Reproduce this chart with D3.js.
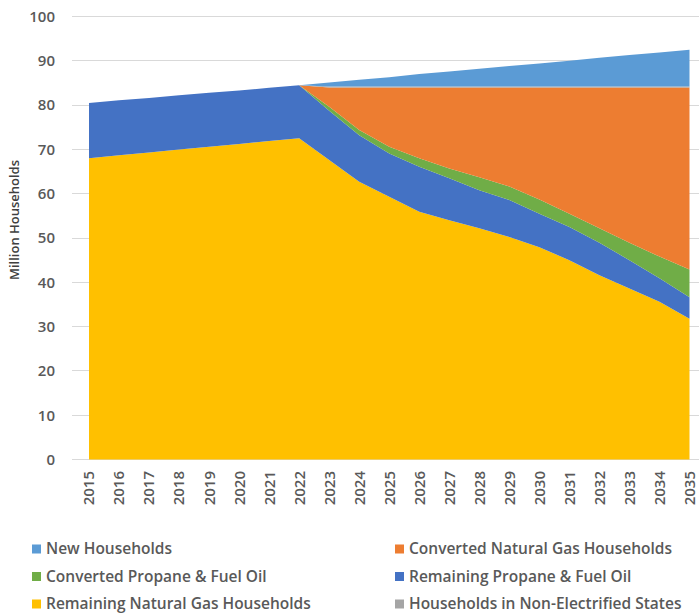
<!doctype html>
<html>

<head>
    <meta charset="utf-8">
    <style>
        body {
            margin: 0;
            background: #fff;
        }

        .grid line {
            stroke: #d9d9d9;
            stroke-width: 1px;
            shape-rendering: crispEdges;
        }

        .ytick text,
        .xtick text {
            fill: #595959;
            font-family: "Open Sans", sans-serif;
            font-weight: 600;
        }

        .legend text {
            fill: #595959;
            font-family: "Open Sans", sans-serif;
            font-weight: 600;
            font-size: 15.5px;
        }
    </style>
    <script src="https://d3js.org/d3.v7.min.js"></script>
</head>

<body>

    <script>
        // years on the x axis
        const years = d3.range(2015, 2036)

        // million households per series, 2015..2035
        const remainingGas = [68.0, 68.7, 69.3, 70.0, 70.6, 71.2, 71.9, 72.5, 67.6, 62.7, 59.3, 55.9, 54.0, 52.2, 50.2, 47.9, 45.0, 41.6, 38.6, 35.6, 31.8]
        const remainingPropane = [12.5, 12.4, 12.3, 12.2, 12.2, 12.1, 12.0, 12.0, 11.1, 10.5, 9.8, 10.2, 9.5, 8.6, 8.4, 7.6, 7.5, 7.3, 6.4, 5.3, 4.8]
        const convertedPropane = [0, 0, 0, 0, 0, 0, 0, 0, 0.9, 1.2, 1.5, 1.9, 2.2, 2.9, 3.0, 3.2, 3.0, 3.3, 3.9, 4.9, 6.3]
        const convertedGas = [0, 0, 0, 0, 0, 0, 0, 0, 4.4, 9.6, 13.4, 16.0, 18.3, 20.3, 22.4, 25.3, 28.5, 31.8, 35.1, 38.2, 41.1]
        const nonElectrified = [0, 0, 0, 0, 0, 0, 0, 0, 0.2, 0.2, 0.2, 0.2, 0.2, 0.2, 0.2, 0.2, 0.2, 0.2, 0.2, 0.2, 0.2]
        const newHouseholds = [0, 0, 0, 0, 0, 0, 0, 0, 0.9, 1.5, 2.1, 2.8, 3.4, 4.0, 4.6, 5.2, 5.8, 6.5, 7.1, 7.7, 8.3]

        const yTicks = [0, 10, 20, 30, 40, 50, 60, 70, 80, 90, 100]

        // stacking order, bottom first
        const series = [
            { key: "Remaining Natural Gas Households", values: remainingGas, color: "#ffc000" },
            { key: "Remaining Propane & Fuel Oil", values: remainingPropane, color: "#4472c4" },
            { key: "Converted Propane & Fuel Oil", values: convertedPropane, color: "#70ad47" },
            { key: "Converted Natural Gas Households", values: convertedGas, color: "#ed7d31" },
            { key: "Households in Non-Electrified States", values: nonElectrified, color: "#a5a5a5" },
            { key: "New Households", values: newHouseholds, color: "#5b9bd5" },
        ]

        // legend layout (reading order of the original)
        const legendOrder = [
            "New Households", "Converted Natural Gas Households",
            "Converted Propane & Fuel Oil", "Remaining Propane & Fuel Oil",
            "Remaining Natural Gas Households", "Households in Non-Electrified States"
        ]

        const width = 699, height = 615

        const svg = d3.select("body").append("svg")
            .attr("width", width)
            .attr("height", height)

        const x = d3.scaleLinear().domain([2015, 2035]).range([89, 689.5])
        const y = d3.scaleLinear().domain([0, 100]).range([459.5, 16.5])

        // build rows for d3.stack
        const rows = years.map((yr, i) => {
            const r = { year: yr }
            series.forEach(s => r[s.key] = s.values[i])
            return r
        })
        const stacked = d3.stack().keys(series.map(s => s.key))(rows)

        //gridlines
        svg.append("g")
            .attr("class", "grid")
            .selectAll("line")
            .data(yTicks)
            .enter()
            .append("line")
            .attr("x1", 72)
            .attr("x2", width)
            .attr("y1", d => y(d))
            .attr("y2", d => y(d))

        const area = d3.area()
            .x(d => x(d.data.year))
            .y0(d => y(d[0]))
            .y1(d => y(d[1]))

        svg.append("g")
            .selectAll("path")
            .data(stacked)
            .enter()
            .append("path")
            .attr("d", area)
            .attr("fill", (d, i) => series[i].color)

        // y axis labels
        svg.append("g")
            .attr("class", "ytick")
            .attr("transform", "translate(55,0)")
            .call(d3.axisLeft(y).tickValues(yTicks).tickSize(0).tickPadding(0))
            .call(g => g.select(".domain").remove())
            .selectAll("text")
            .style("font-size", "15px")

        // x axis labels, rotated
        svg.append("g")
            .attr("class", "xtick")
            .selectAll("text")
            .data(years)
            .enter()
            .append("text")
            .attr("transform", d => `translate(${x(d)},471) rotate(-90)`)
            .attr("text-anchor", "end")
            .attr("dy", "0.36em")
            .style("font-size", "15px")
            .text(d => d)

        // y axis title
        svg.append("text")
            .attr("transform", `translate(19,220) rotate(-90)`)
            .attr("text-anchor", "middle")
            .style("font-family", "'Open Sans', sans-serif")
            .style("font-weight", 600)
            .style("font-size", "13px")
            .style("fill", "#404040")
            .text("Million Households")

        // legend
        const legend = svg.append("g").attr("class", "legend")
        const items = legend.selectAll("g")
            .data(legendOrder)
            .enter()
            .append("g")
            .attr("transform", (d, i) => `translate(${i % 2 === 0 ? 32 : 395},${549 + Math.floor(i / 2) * 27.5})`)

        items.append("rect")
            .attr("x", 0)
            .attr("y", -4.5)
            .attr("width", 9)
            .attr("height", 9)
            .attr("fill", d => series.find(s => s.key === d).color)

        items.append("text")
            .attr("x", 14)
            .attr("dy", "0.35em")
            .text(d => d)
    </script>
</body>

</html>
